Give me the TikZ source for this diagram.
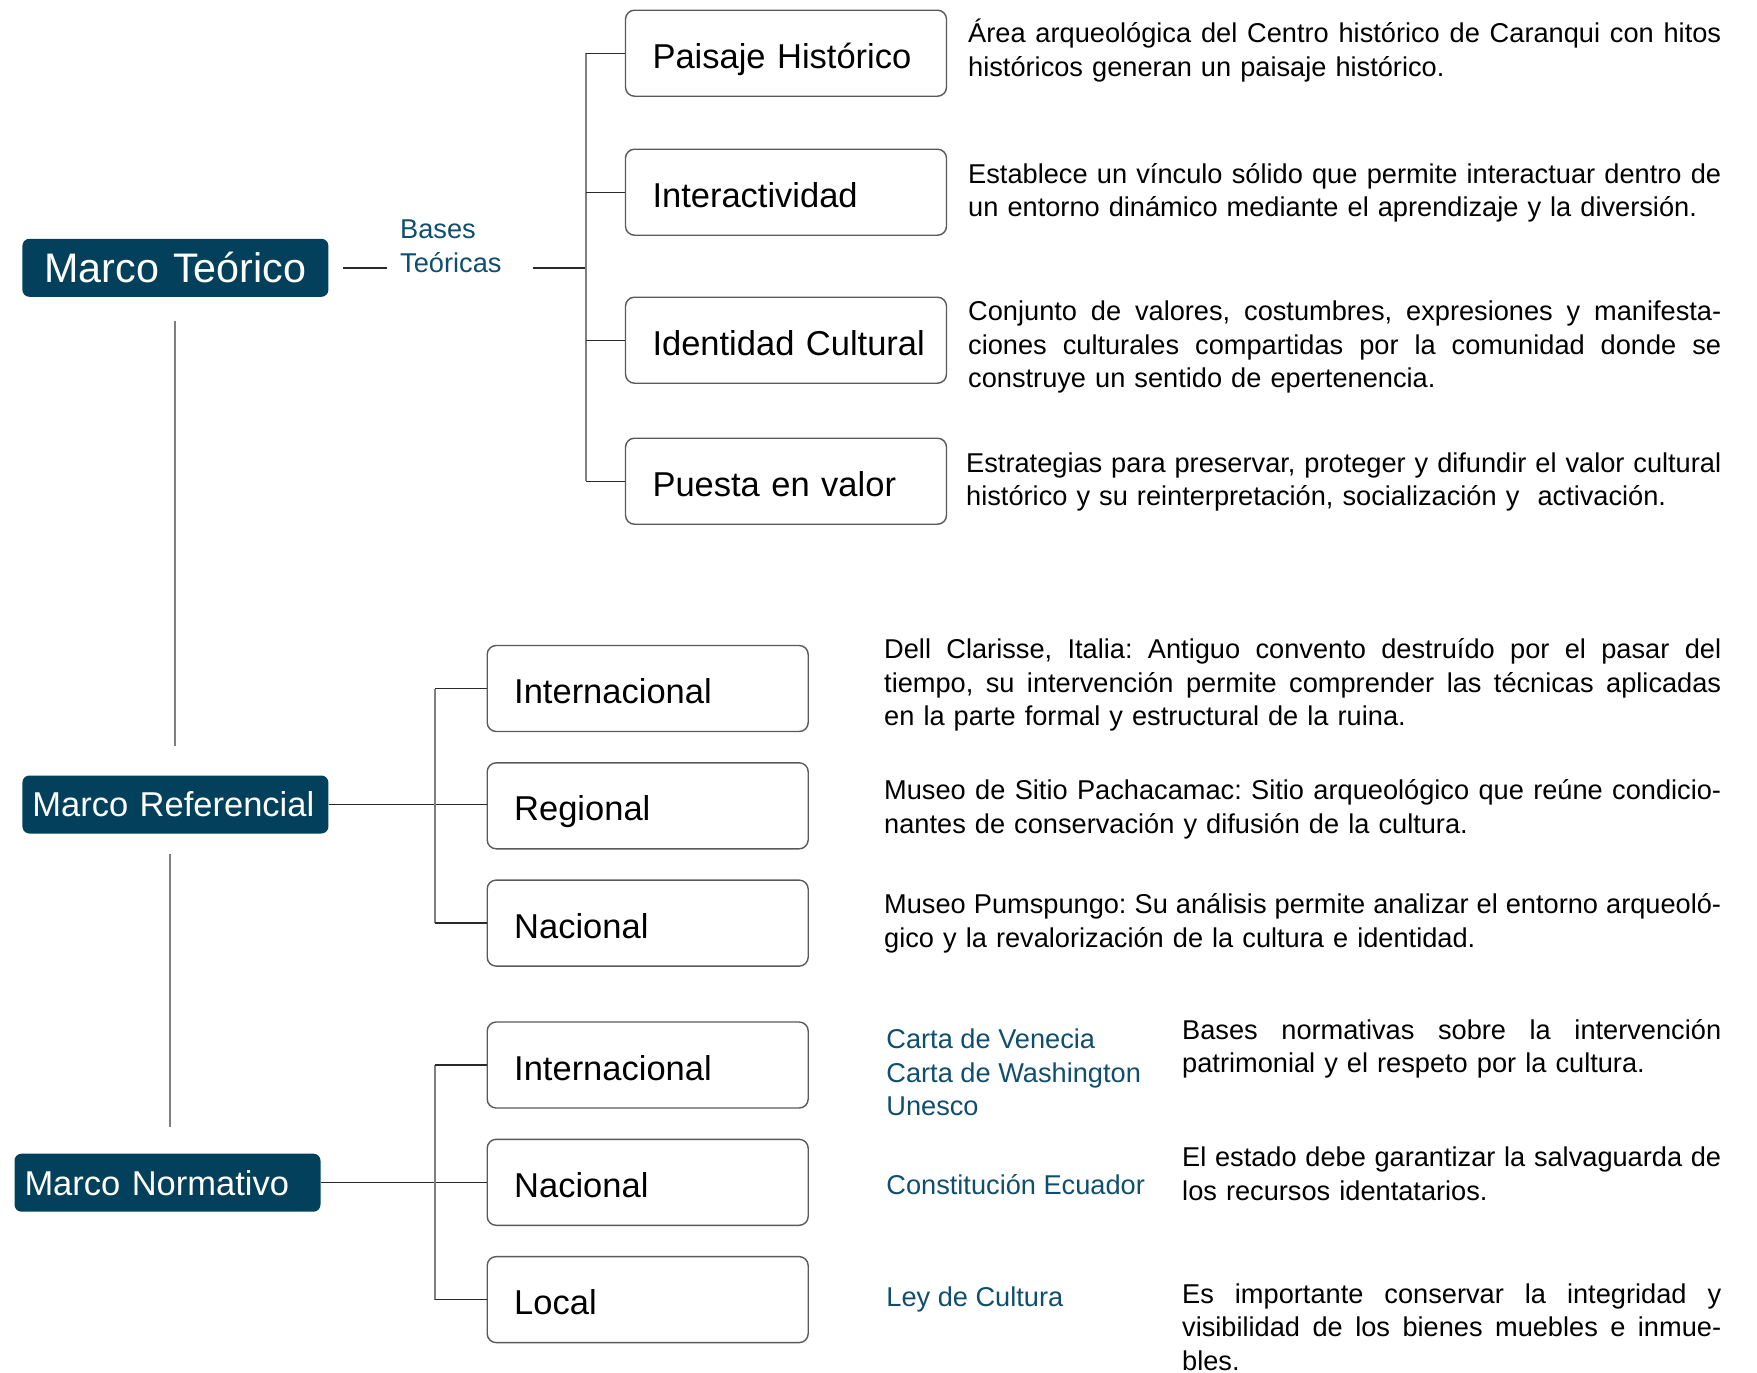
\documentclass[tikz,border=0pt]{standalone}
\usepackage{fontspec}
\setmainfont{Liberation Sans}
\usepackage{tikz}
\usetikzlibrary{positioning,calc}
\definecolor{MarcoFill}{HTML}{03405B}
\definecolor{RefBlue}{HTML}{0F4E6E}
\definecolor{BoxGray}{HTML}{5A5A5A}
\definecolor{SpineGray}{HTML}{7F7F7F}
\definecolor{TickDark}{HTML}{2A2A2A}
\frenchspacing
\newcommand\descfont{\fontsize{27.2}{33.6}\selectfont}
\newcommand\boxfont{\fontsize{34.5}{40}\selectfont}
% justified line: stretchable word spaces, full line width
\newcommand\jl[1]{\makebox[\hsize][s]{\spaceskip=.278em plus .6em minus .1em\relax #1}}
\tikzset{
  MB/.style={rectangle,rounded corners=7pt,fill=MarcoFill,text=white,
             minimum width=306pt,minimum height=58pt,inner xsep=10pt,
             text width=286pt,align=left,font=\boxfont},
  IB/.style={rectangle,rounded corners=9pt,draw=BoxGray,line width=1.4pt,
             minimum width=321pt,minimum height=86pt,inner xsep=18pt,
             text width=285pt,text height=30pt,text depth=0pt,align=left,
             font=\boxfont,execute at begin node={\hspace*{9pt}}},
  desc/.style={inner sep=0pt,align=left,font=\descfont,anchor=west},
  refT/.style={desc,text=RefBlue},
  tick/.style={draw=TickDark,line width=1.4pt},
  spine/.style={draw=SpineGray,line width=1.4pt},
  trunk/.style={draw=SpineGray,line width=2pt}
}

\begin{document}
\begin{tikzpicture}[x=1pt,y=-1pt,node distance=29.9pt]
  \useasboundingbox (0,0) rectangle (1757,1373);
  % marcos
  \node[MB,align=center,font=\fontsize{41.3}{46}\selectfont] (mt) at (175.4,267.8) {Marco Teórico};
  \node[MB] (mr) at (175.4,804.5) {Marco Referencial};
  \node[MB] (mn) at (167.5,1182.7) {Marco Normativo};
  \draw[trunk,shorten <=23.5pt,shorten >=29pt] (mt.south) -- (mt.south |- mr.north);
  \draw[trunk,shorten <=20pt,shorten >=27pt] ([xshift=-5pt]mr.south) -- ([xshift=-5pt]mr.south |- mn.north);

  % bases teoricas
  \node[refT] (bt) at (400,246.5) {Bases\\Teóricas};
  \coordinate (tsp) at (586,267.8);
  \node[IB] (ph) at (786,53.2) {Paisaje Histórico};
  \node[IB,below=51.6pt of ph] (ia) {Interactividad};
  \node[IB,below=60.6pt of ia] (ic) {Identidad Cultural};
  \node[IB,below=53.6pt of ic] (pv) {Puesta en valor};
  \draw[tick,shorten <=14.6pt,shorten >=13.4pt] (mt.east) -- (mt.east -| bt.west);
  \draw[tick,shorten <=31pt] (bt.east |- tsp) -- (tsp);
  \draw[spine] (tsp |- ph.west) -- (tsp |- pv.west);
  \foreach \b in {ph,ia,ic,pv}
    \draw[tick] (\b.west) -- (\b.west -| tsp);

  \node[desc,text width=753pt] (dph) at (968,50.4)
    {\jl{Área arqueológica del Centro histórico de Caranqui con hitos}\\
     históricos generan un paisaje histórico.};
  \node[desc,text width=753pt] (dia) at (968,193)
    {\jl{Establece un vínculo sólido que permite interactuar dentro de}\\
     un entorno dinámico mediante el aprendizaje y la diversión.};
  \node[desc,text width=753pt] (dic) at (968,347)
    {\jl{Conjunto de valores, costumbres, expresiones y manifesta-}\\
     \jl{ciones culturales compartidas por la comunidad donde se}\\
     construye un sentido de epertenencia.};
  \node[desc,text width=755pt] (dpv) at (966,482)
    {\jl{Estrategias para preservar, proteger y difundir el valor cultural}\\
     histórico y su reinterpretación, socialización y\ \ activación.};

  % marco referencial
  \coordinate (rsp) at (434.8,806.2);
  \node[IB] (ri) at (647.7,688.5) {Internacional};
  \node[IB,below=of ri] (rr) {Regional};
  \node[IB,below=of rr] (rn) {Nacional};
  \draw[tick] (mr.east) -- (mr.east -| rr.west);
  \draw[spine] (rsp |- ri.west) -- (rsp |- rn.west);
  \foreach \b in {ri,rn}
    \draw[tick] (\b.west) -- (\b.west -| rsp);

  \node[desc,text width=837pt] (dri) at (884,685)
    {\jl{Dell Clarisse, Italia: Antiguo convento destruído por el pasar del}\\
     \jl{tiempo, su intervención permite comprender las técnicas aplicadas}\\
     en la parte formal y estructural de la ruina.};
  \node[desc,text width=837pt] (drr) at (884,809)
    {\jl{Museo de Sitio Pachacamac: Sitio arqueológico que reúne condicio-}\\
     nantes de conservación y difusión de la cultura.};
  \node[desc,text width=837pt] (drn) at (884,923)
    {\jl{Museo Pumspungo: Su análisis permite analizar el entorno arqueoló-}\\
     gico y la revalorización de la cultura e identidad.};

  % marco normativo
  \coordinate (nsp) at (434.8,1182.7);
  \node[IB] (ni) at (647.7,1065) {Internacional};
  \node[IB,below=of ni] (nn) {Nacional};
  \node[IB,below=of nn] (nl) {Local};
  \draw[tick] (mn.east) -- (mn.east -| nn.west);
  \draw[spine] (nsp |- ni.west) -- (nsp |- nl.west);
  \foreach \b in {ni,nl}
    \draw[tick] (\b.west) -- (\b.west -| nsp);

  \node[refT,right=77.3pt of ni,yshift=-7.3pt] (rni)
    {Carta de Venecia\\Carta de Washington\\Unesco};
  \node[refT,right=77.3pt of nn,yshift=-2.8pt] (rnn) {Constitución Ecuador};
  \node[refT,right=77.3pt of nl] (rnl) {Ley de Cultura};

  \node[desc,text width=539pt] (dni) at (1182,1048.8)
    {\jl{Bases normativas sobre la intervención}\\
     patrimonial y el respeto por la cultura.};
  \node[desc,text width=539pt] (dnn) at (1182,1174)
    {\jl{El estado debe garantizar la salvaguarda de}\\
     los recursos identatarios.};
  \node[desc,text width=539pt] (dnl) at (1182,1327)
    {\jl{Es importante conservar la integridad y}\\
     \jl{visibilidad de los bienes muebles e inmue-}\\
     bles.};
\end{tikzpicture}
\end{document}
